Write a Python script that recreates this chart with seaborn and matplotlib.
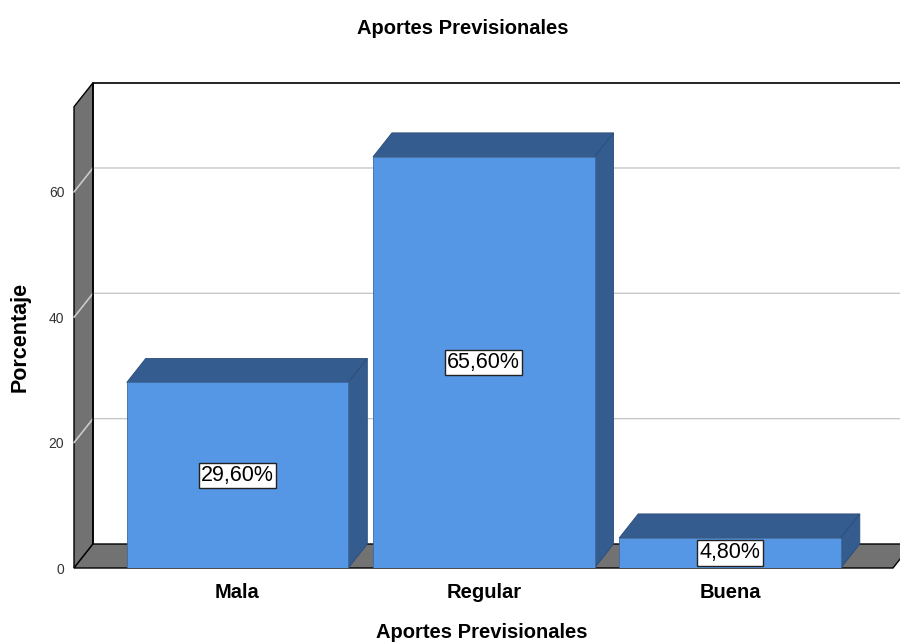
import numpy as np
import matplotlib
matplotlib.use("Agg")
import matplotlib.pyplot as plt
import seaborn as sns
from matplotlib.patches import Polygon

# ---------------------------------------------------------------------------
# data
# ---------------------------------------------------------------------------
categories = ["Mala", "Regular", "Buena"]
percentages = [29.6, 65.6, 4.8]
bar_labels = ["29,60%", "65,60%", "4,80%"]
y_ticks = [0, 20, 40, 60]

# colours (SPSS 3D look)
FRONT = "#5596E5"
SHADE = "#345C8F"
WALL = "#727272"
GRID = "#C8C8C8"

sns.set_theme(style="white")
plt.rcParams["font.family"] = ["Liberation Sans", "DejaVu Sans"]
plt.rcParams["text.color"] = "black"

W, H = 900, 644
fig = plt.figure(figsize=(9, 6.44), dpi=100)
# front plane of the box: x 74..900 px, y 568 (0) .. 83 px
ax = fig.add_axes([74 / W, (H - 568) / H, (900 - 74) / W, (568 - 83) / H])

px_x = 246.25          # pixels per category
px_y = 6.267           # pixels per percent
DX = 19 / px_x         # depth offset in data units
DY = 24 / px_y
X0 = (74 - 237.5) / px_x
X1 = (893 - 237.5) / px_x
XR = (900 - 237.5) / px_x
TOP = 73.6

sns.barplot(x=categories, y=percentages, width=0.9, color=FRONT,
            saturation=1, edgecolor="#3E6A9E", linewidth=0.6, ax=ax, zorder=4)
bars = list(ax.patches)

ax.set_xlim(X0, XR)
ax.set_ylim(0, (568 - 83) / px_y)


def poly(pts, fc, ec="black", lw=1.0, z=1):
    ax.add_patch(Polygon(pts, closed=True, facecolor=fc, edgecolor=ec,
                         linewidth=lw, zorder=z, clip_on=False))


# back wall
ax.plot([X0 + DX, X0 + DX, XR + 0.5], [DY, TOP + DY, TOP + DY], color="black",
        lw=1.2, zorder=1, clip_on=False)
for t in y_ticks[1:]:
    ax.plot([X0, X0 + DX, XR + 0.5], [t, t + DY, t + DY], color=GRID, lw=1.0,
            zorder=0.5, clip_on=False)

# left wall
poly([(X0, 0), (X0, TOP), (X0 + DX, TOP + DY), (X0 + DX, DY)], WALL, z=0.4)
for t in y_ticks[1:]:
    ax.plot([X0, X0 + DX], [t, t + DY], color=GRID, lw=1.0, zorder=0.6,
            clip_on=False)

# floor
poly([(X0, 0), (X1, 0), (X1 + DX, DY), (X0 + DX, DY)], WALL, z=1)

# 3D faces of each bar
for p in bars:
    x, w, h = p.get_x(), p.get_width(), p.get_height()
    poly([(x, h), (x + w, h), (x + w + DX, h + DY), (x + DX, h + DY)],
         SHADE, ec="#2A4C78", lw=0.6, z=3)
    poly([(x + w, 0), (x + w, h), (x + w + DX, h + DY), (x + w + DX, DY)],
         SHADE, ec="#2A4C78", lw=0.6, z=3)

# value labels
for i, (v, lab) in enumerate(zip(percentages, bar_labels)):
    ax.text(i, v / 2, lab, ha="center", va="center", fontsize=15.5,
            color="black", zorder=6,
            bbox=dict(boxstyle="square,pad=0.1", fc="white", ec="#222222",
                      lw=1.0))

for s in ax.spines.values():
    s.set_visible(False)
ax.set_yticks(y_ticks)
ax.set_yticklabels([str(t) for t in y_ticks], fontsize=10, color="#333333",
                   va="top")
ax.tick_params(axis="y", length=0, pad=7)
ax.tick_params(axis="x", length=0, pad=11, labelsize=14.5, labelcolor="black")
for tl in ax.get_yticklabels():
    tl.set_va("center_baseline")
for tl in ax.get_xticklabels():
    tl.set_fontweight("bold")
ax.set_xlabel("")
ax.set_ylabel("")
ax.grid(False)

fig.text(463 / W, 1 - 28 / H, "Aportes Previsionales", ha="center",
         va="center", fontsize=14.5, fontweight="bold")
fig.text(482 / W, 1 - 632 / H, "Aportes Previsionales", ha="center",
         va="center", fontsize=14.5, fontweight="bold")
fig.text(20 / W, 1 - 337 / H, "Porcentaje", ha="center", va="center",
         rotation=90, fontsize=15.5, fontweight="bold")

fig.savefig("out.png", dpi=100)
